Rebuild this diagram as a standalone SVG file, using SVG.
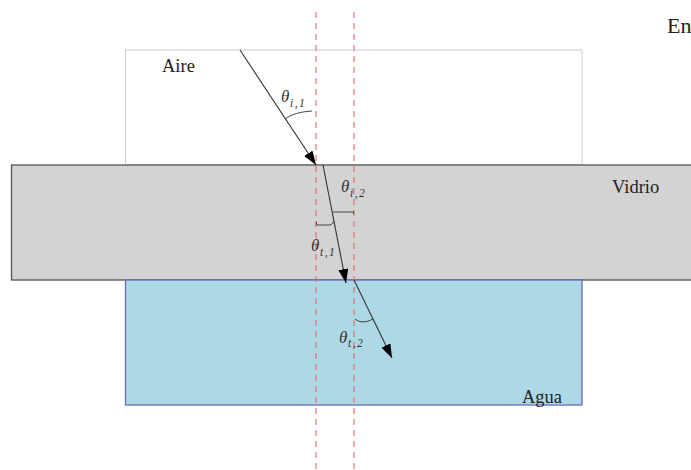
<svg xmlns="http://www.w3.org/2000/svg" width="691" height="470" viewBox="0 0 691 470">
<style>
.lbl{font-family:"Liberation Serif","DejaVu Serif",serif;font-size:18.5px;fill:#222}
.th{font-family:"Liberation Serif","DejaVu Serif",serif;font-size:17px;font-style:italic;fill:#333}
.sub{font-family:"Liberation Serif","DejaVu Serif",serif;font-size:11.5px;font-style:italic;fill:#333;letter-spacing:1.5px}
.ray{stroke:#333;stroke-width:1.1;fill:none}
.arc{stroke:#333;stroke-width:0.9;fill:none}
.norm{stroke:#e06a6a;stroke-width:1.1;stroke-dasharray:6 5;fill:none}
</style>
<defs>
<marker id="ah" viewBox="0 0 14 10" refX="14" refY="5" markerWidth="14" markerHeight="10" markerUnits="userSpaceOnUse" orient="auto">
<path d="M0,0 L14,5 L0,10 Z" fill="#000"/>
</marker>
</defs>
<rect width="691" height="470" fill="#fff"/>
<g id="aire">
<rect x="125.5" y="50" width="456.5" height="115" fill="#fff" stroke="#cccccc" stroke-width="1"/>
<text class="lbl" x="162" y="72">Aire</text>
</g>
<g id="vidrio">
<rect x="11.5" y="165" width="690" height="115" fill="#d3d3d3" stroke="#555" stroke-width="1.3"/>
<text class="lbl" x="612" y="193">Vidrio</text>
</g>
<g id="agua">
<rect x="125.5" y="280" width="456.5" height="125" fill="#add8e6" stroke="#6a6abf" stroke-width="1.3"/>
<text class="lbl" x="522" y="403">Agua</text>
</g>
<g id="title">
<text class="lbl" x="667" y="33" style="font-size:22px">En</text>
</g>
<g id="connectors">
<line class="norm" x1="316" y1="12" x2="316" y2="470"/>
<line class="norm" x1="354" y1="12" x2="354" y2="470"/>
<line class="ray" x1="240" y1="50" x2="316" y2="165" marker-end="url(#ah)"/>
<line class="ray" x1="323" y1="165" x2="346" y2="283" marker-end="url(#ah)"/>
<line class="ray" x1="354" y1="280" x2="392" y2="358" marker-end="url(#ah)"/>
<path class="arc" d="M285,119 Q294,112 312,111"/>
<path class="arc" d="M333,212 L353.5,212 L353.5,214"/>
<path class="arc" d="M316.5,222 L316.5,225 L330,225 Q333,224 334,221"/>
<path class="arc" d="M355,319 Q362,325 373,319"/>
</g>
<g id="labels">
<text class="th" x="281" y="102">θ</text><text class="sub" x="290" y="107">i,1</text>
<text class="th" x="341" y="192">θ</text><text class="sub" x="350" y="197">i,2</text>
<text class="th" x="311" y="251">θ</text><text class="sub" x="320" y="256">t,1</text>
<text class="th" x="339" y="343">θ</text><text class="sub" x="348" y="347">t,2</text>
</g>
</svg>
